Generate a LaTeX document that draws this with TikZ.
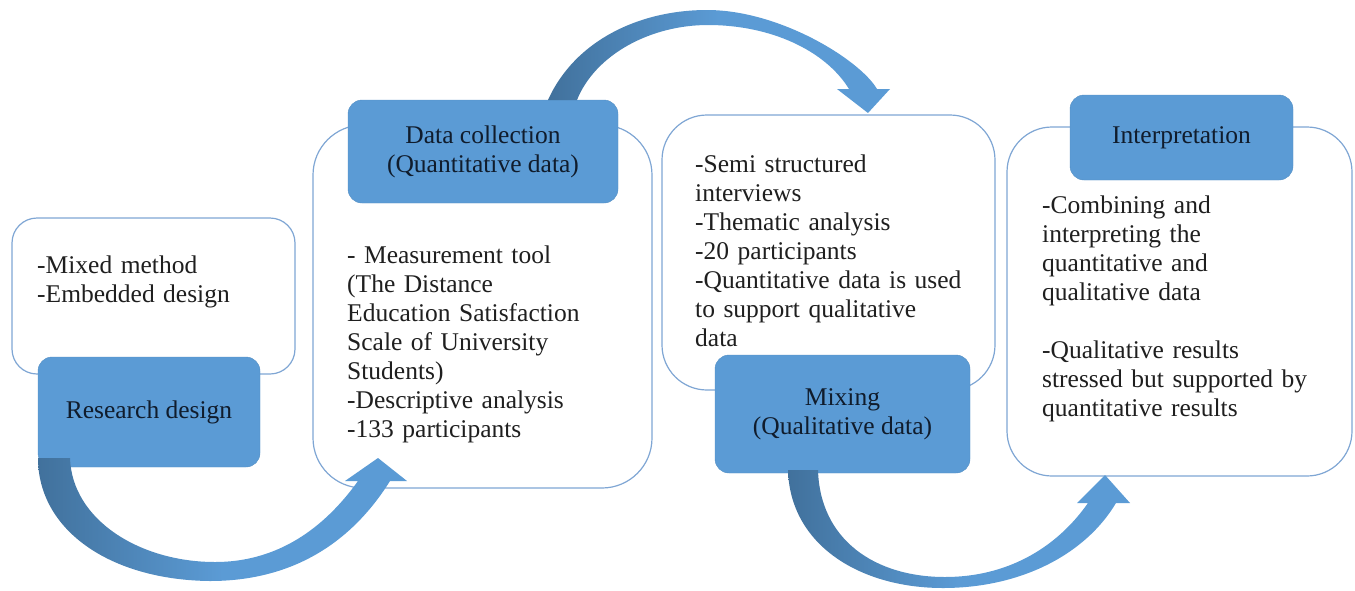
\documentclass[tikz,border=0pt]{standalone}
\usepackage{fontspec}
\setmainfont{Liberation Serif}
\usetikzlibrary{positioning, calc}
\definecolor{headblue}{HTML}{5B9BD5}
\definecolor{arrowdark}{HTML}{41719C}
\definecolor{panelline}{HTML}{7FA6D4}
\definecolor{headtext}{HTML}{101C2C}

\begin{document}
\begin{tikzpicture}[x=1pt, y=-1pt,
  panel/.style={draw=panelline, line width=1.2pt, fill=white, rounded corners=#1, inner sep=0pt},
  head/.style={fill=headblue, draw=headblue!92!black, rounded corners=14pt, align=center,
               text=headtext, inner sep=0pt, font=\fontsize{25.5}{29}\selectfont},
  body/.style={anchor=base west, inner sep=0pt, text width=320pt, align=left,
               text=black!88, font=\fontsize{25.5}{29}\selectfont},
  blockarrow/.style={draw=none, left color=arrowdark, right color=headblue, middle color=headblue}]
\useasboundingbox (0,0) rectangle (1355,590);

% white panels
\node[panel=25pt, minimum width=283pt, minimum height=156pt] (designpanel) at (153.5,296) {};
\node[panel=50pt, minimum width=339pt, minimum height=363pt] (quantpanel) at (482.5,306.5) {};
\node[panel=45pt, minimum width=333pt, minimum height=275pt] (qualpanel) at (828.5,252.5) {};
\node[panel=45pt, minimum width=345pt, minimum height=349pt] (interppanel) at (1179.5,301.5) {};

% blue headings
\node[head, minimum width=222pt, minimum height=110pt] (design) at (149,412) {Research design};
\node[head, minimum width=270pt, minimum height=103pt] (quant) at (483,151.5) {Data collection\\(Quantitative data)};
\node[head, minimum width=255pt, minimum height=118pt] (qual) at (842.5,414) {Mixing\\(Qualitative data)};
\node[head, minimum width=223pt, minimum height=85pt] (interp) at (1181.5,137.5) {Interpretation};

% curved block arrows
\path[blockarrow] (38,458) -- (70,458)
  .. controls (72,520) and (140,562) .. (215,562)
  .. controls (285,562) and (330,520) .. (358,481)
  -- (345,481) -- (378,458) -- (407,481) -- (390,481)
  .. controls (350,545) and (290,581) .. (210,581)
  .. controls (110,580) and (38,530) .. (38,458) -- cycle;
\path[blockarrow] (548,100) .. controls (575,40) and (640,10) .. (707,10)
  .. controls (780,10) and (860,60) .. (877,89)
  -- (890,89) -- (868,113) -- (837,89) -- (849,89)
  .. controls (825,50) and (770,25) .. (708,25)
  .. controls (650,25) and (595,55) .. (577,100) -- cycle;
\path[blockarrow] (788,470) -- (818,470)
  .. controls (820,540) and (875,577) .. (945,577)
  .. controls (1005,577) and (1055,550) .. (1088,503)
  -- (1077,503) -- (1105,475) -- (1130,503) -- (1116,503)
  .. controls (1085,555) and (1020,588) .. (943,588)
  .. controls (860,588) and (790,545) .. (788,470) -- cycle;

% panel texts
\node[body] (designtext) at (37,273) {-Mixed method\\-Embedded design};
\node[body] (quanttext) at (347,263) {- Measurement tool\\(The Distance\\Education Satisfaction\\Scale of University\\Students)\\-Descriptive analysis\\-133 participants};
\node[body] (qualtext) at (695,172) {-Semi structured\\interviews\\-Thematic analysis\\-20 participants\\-Quantitative data is used\\to support qualitative\\data};
\node[body] (interptext) at (1042,213) {-Combining and\\interpreting the\\quantitative and\\qualitative data\\[29pt]-Qualitative results\\stressed but supported by\\quantitative results};
\end{tikzpicture}
\end{document}
